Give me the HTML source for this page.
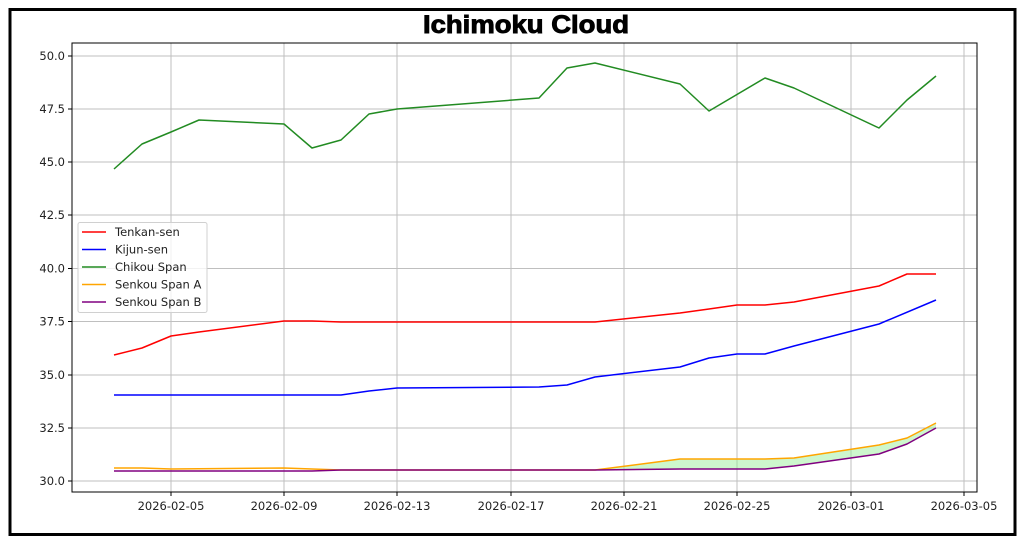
<!DOCTYPE html>
<html><head><meta charset="utf-8"><style>
html,body{margin:0;padding:0;background:#fff;}
svg{display:block;font-family:"DejaVu Sans","Liberation Sans",sans-serif;}
</style></head><body>
<svg width="1024" height="545" viewBox="0 0 1024 545" xmlns="http://www.w3.org/2000/svg">
<rect x="0" y="0" width="1024" height="545" fill="#fff"/>
<rect x="10" y="9.5" width="1005" height="525" fill="none" stroke="#000" stroke-width="3"/>
<text x="526" y="33" text-anchor="middle" font-family="Liberation Sans, sans-serif" font-weight="bold" font-size="25" stroke="#000" stroke-width="0.9" textLength="206" lengthAdjust="spacingAndGlyphs">Ichimoku Cloud</text>
<g stroke="#b0b0b0" stroke-width="1" opacity="0.8">
<line x1="72" y1="56" x2="977" y2="56"/><line x1="72" y1="109" x2="977" y2="109"/>
<line x1="72" y1="162" x2="977" y2="162"/><line x1="72" y1="215" x2="977" y2="215"/>
<line x1="72" y1="268.5" x2="977" y2="268.5"/><line x1="72" y1="321.5" x2="977" y2="321.5"/>
<line x1="72" y1="375" x2="977" y2="375"/><line x1="72" y1="428" x2="977" y2="428"/>
<line x1="72" y1="481" x2="977" y2="481"/>
<line x1="171" y1="43" x2="171" y2="492"/><line x1="284" y1="43" x2="284" y2="492"/>
<line x1="397" y1="43" x2="397" y2="492"/><line x1="511" y1="43" x2="511" y2="492"/>
<line x1="624" y1="43" x2="624" y2="492"/><line x1="737" y1="43" x2="737" y2="492"/>
<line x1="851" y1="43" x2="851" y2="492"/><line x1="964" y1="43" x2="964" y2="492"/>
</g>
<polygon fill="#90ee90" opacity="0.45" points="341,470 595,470 680,459 765,459 794,458 879,445 907,438 936,423 936,428 907,444 879,454 794,466 765,469 680,469 595,470"/>
<g fill="none" stroke-width="1.5" stroke-linejoin="round">
<polyline stroke="#228b22" points="114,169 142,144 171,132 199,120 284,124 312,148 341,140 369,114 397,109 539,98 567,68 595,63 680,84 709,111 765,78 794,88 879,128 907,100 936,76"/>
<polyline stroke="#ff0000" points="114,355 142,348 171,336 199,332 284,321 312,321 341,322 595,322 680,313 709,309 737,305 765,305 794,302 879,286 907,274 936,274"/>
<polyline stroke="#0000ff" points="114,395 341,395 369,391 397,388 539,387 567,385 595,377 680,367 709,358 737,354 765,354 794,346 879,324 936,300"/>
<polyline stroke="#ffa500" points="114,468 142,468 171,469 284,468 312,469 341,470 595,470 680,459 765,459 794,458 879,445 907,438 936,423"/>
<polyline stroke="#800080" points="114,471 312,471 341,470 595,470 680,469 765,469 794,466 879,454 907,444 936,428"/>
</g>
<rect x="72" y="43" width="905" height="449" fill="none" stroke="#000" stroke-width="1"/>
<g stroke="#000" stroke-width="1">
<line x1="68" y1="56" x2="72" y2="56"/><line x1="68" y1="109" x2="72" y2="109"/>
<line x1="68" y1="162" x2="72" y2="162"/><line x1="68" y1="215" x2="72" y2="215"/>
<line x1="68" y1="268.5" x2="72" y2="268.5"/><line x1="68" y1="321.5" x2="72" y2="321.5"/>
<line x1="68" y1="375" x2="72" y2="375"/><line x1="68" y1="428" x2="72" y2="428"/>
<line x1="68" y1="481" x2="72" y2="481"/>
<line x1="171" y1="492" x2="171" y2="496"/><line x1="284" y1="492" x2="284" y2="496"/>
<line x1="397" y1="492" x2="397" y2="496"/><line x1="511" y1="492" x2="511" y2="496"/>
<line x1="624" y1="492" x2="624" y2="496"/><line x1="737" y1="492" x2="737" y2="496"/>
<line x1="851" y1="492" x2="851" y2="496"/><line x1="964" y1="492" x2="964" y2="496"/>
</g>
<g font-size="11.5" fill="#222" text-anchor="end">
<text x="65" y="60">50.0</text><text x="65" y="113">47.5</text><text x="65" y="166">45.0</text>
<text x="65" y="219">42.5</text><text x="65" y="272.5">40.0</text><text x="65" y="325.5">37.5</text>
<text x="65" y="379">35.0</text><text x="65" y="432">32.5</text><text x="65" y="485">30.0</text>
</g>
<g font-size="11.5" fill="#222" text-anchor="middle">
<text x="171" y="510">2026-02-05</text><text x="284" y="510">2026-02-09</text>
<text x="397" y="510">2026-02-13</text><text x="511" y="510">2026-02-17</text>
<text x="624" y="510">2026-02-21</text><text x="737" y="510">2026-02-25</text>
<text x="851" y="510">2026-03-01</text><text x="964" y="510">2026-03-05</text>
</g>
<rect x="78" y="222.5" width="129" height="90" rx="2" fill="#fff" fill-opacity="0.8" stroke="#d0d0d0"/>
<g stroke-width="1.5">
<line x1="82" y1="232" x2="106" y2="232" stroke="#ff0000"/>
<line x1="82" y1="249.5" x2="106" y2="249.5" stroke="#0000ff"/>
<line x1="82" y1="267" x2="106" y2="267" stroke="#228b22"/>
<line x1="82" y1="284.5" x2="106" y2="284.5" stroke="#ffa500"/>
<line x1="82" y1="302" x2="106" y2="302" stroke="#800080"/>
</g>
<g font-size="11.5" fill="#222">
<text x="115" y="236">Tenkan-sen</text><text x="115" y="253.5">Kijun-sen</text>
<text x="115" y="271">Chikou Span</text><text x="115" y="288.5">Senkou Span A</text>
<text x="115" y="306">Senkou Span B</text>
</g>
</svg>
</body></html>
